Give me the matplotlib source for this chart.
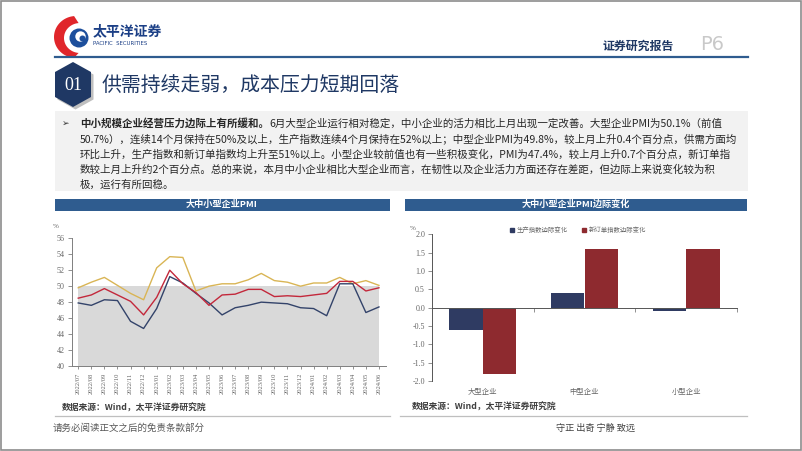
import matplotlib
matplotlib.use('Agg')
import matplotlib.pyplot as plt
from matplotlib.patches import Rectangle, Polygon, Circle
from matplotlib.lines import Line2D
import numpy as np

plt.rcParams['font.family'] = ['Noto Sans CJK SC', 'DejaVu Sans']

# ---------------- data ----------------
months = ['2022/07', '2022/08', '2022/09', '2022/10', '2022/11', '2022/12',
          '2023/01', '2023/02', '2023/03', '2023/04', '2023/05', '2023/06',
          '2023/07', '2023/08', '2023/09', '2023/10', '2023/11', '2023/12',
          '2024/01', '2024/02', '2024/03', '2024/04', '2024/05', '2024/06']
large = [49.8, 50.5, 51.1, 50.1, 49.1, 48.3, 52.3, 53.7, 53.6, 49.4, 50.0, 50.3,
         50.3, 50.8, 51.6, 50.7, 50.5, 50.0, 50.4, 50.4, 51.1, 50.3, 50.7, 50.1]
small = [47.9, 47.6, 48.3, 48.2, 45.6, 44.7, 47.2, 51.2, 50.4, 49.1, 47.9, 46.4,
         47.3, 47.6, 48.0, 47.9, 47.8, 47.3, 47.2, 46.3, 50.3, 50.3, 46.7, 47.4]
medium = [48.5, 48.9, 49.7, 48.9, 48.1, 46.4, 48.6, 52.0, 50.3, 49.2, 47.6, 48.9,
          49.0, 49.6, 49.6, 48.7, 48.8, 48.7, 48.9, 49.1, 50.6, 50.6, 49.4, 49.8]
line_names = ['大型企业', '小型企业', '中型企业']
line_yticks = [40, 42, 44, 46, 48, 50, 52, 54, 56]

bar_cats = ['大型企业', '中型企业', '小型企业']
prod_chg = [-0.6, 0.4, -0.1]
order_chg = [-1.8, 1.6, 1.6]
bar_names = ['生产指数边际变化', '新订单指数边际变化']
bar_yticks = [-2.0, -1.5, -1.0, -0.5, 0.0, 0.5, 1.0, 1.5, 2.0]

para_lines = [
    ("中小规模企业经营压力边际上有所缓和。",
     "6月大型企业运行相对稳定，中小企业的活力相比上月出现一定改善。大型企业PMI为50.1%（前值"),
    ("", "50.7%），连续14个月保持在50%及以上，生产指数连续4个月保持在52%以上；中型企业PMI为49.8%，较上月上升0.4个百分点，供需方面均"),
    ("", "环比上升，生产指数和新订单指数均上升至51%以上。小型企业较前值也有一些积极变化，PMI为47.4%，较上月上升0.7个百分点，新订单指"),
    ("", "数较上月上升约2个百分点。总的来说，本月中小企业相比大型企业而言，在韧性以及企业活力方面还存在差距，但边际上来说变化较为积"),
    ("", "极，运行有所回稳。"),
]

# ---------------- colours ----------------
C_GOLD = '#D9B555'
C_NAVY = '#33436A'
C_RED = '#C3283B'
C_BAR_NAVY = '#2F3B62'
C_BAR_RED = '#8E2A2F'
C_BLUE = '#2F5C8F'
C_DARK = '#1F3864'
C_GRAY = '#666666'

W, H = 802, 451
fig = plt.figure(figsize=(W / 100, H / 100), dpi=100)
bg = fig.add_axes([0, 0, 1, 1])
bg.set_xlim(0, W)
bg.set_ylim(H, 0)
bg.axis('off')


def rect(x0, y0, x1, y1):
    return [x0 / W, 1 - y1 / H, (x1 - x0) / W, (y1 - y0) / H]


# page border
bg.add_patch(Rectangle((0.8, 0.8), W - 1.6, H - 1.6, fill=False, ec='#8C8C8C', lw=1.2))

# ---------------- header ----------------
t = np.linspace(np.radians(95), np.radians(265), 60)
outer = np.c_[76 + 22 * np.cos(t), 37 - 21 * np.sin(t)]
inner = np.c_[80 + 16 * np.cos(t[::-1]), 38 - 15 * np.sin(t[::-1])]
bg.add_patch(Polygon(np.vstack([outer, inner]), closed=True, color='#E0262B', lw=0))
bg.add_patch(Circle((79, 38), 9.5, color='#1D4F9C', lw=0))
bg.add_patch(Circle((80.5, 36.5), 5.2, color='white', lw=0))
bg.add_patch(Circle((82.5, 38.5), 3.0, color='#1D4F9C', lw=0))
bg.text(93, 31, '太平洋证券', fontsize=10, fontweight='bold', color='#1B3F86', va='center', ha='left')
bg.text(93, 43.5, 'PACIFIC  SECURITIES', fontsize=3.9, color='#1B3F86', va='center', ha='left',
        family='DejaVu Sans')

bg.text(603, 46, '证券研究报告', fontsize=8.6, fontweight='bold', color=C_DARK, va='center', ha='left')
bg.text(700, 45, 'P6', fontsize=14, color='#C9C9C9', va='center', ha='left', family='Liberation Sans Narrow')
bg.plot([55, 748], [57, 57], color=C_BLUE, lw=1.6)

hexpts = [(73, 62), (91, 72), (91, 97), (73, 107), (55, 97), (55, 72)]
shadow = [(x + 2.5, y + 2.5) for x, y in hexpts]
bg.add_patch(Polygon(shadow, closed=True, color='#BFBFBF', lw=0))
bg.add_patch(Polygon(hexpts, closed=True, color=C_DARK, lw=0))
bg.text(73, 85, '01', fontsize=13, color='white', family='Liberation Serif', ha='center', va='center')
bg.text(102, 86, '供需持续走弱，成本压力短期回落', fontsize=14.3, color=C_DARK, ha='left', va='center')

# ---------------- text box ----------------
bg.add_patch(Rectangle((55, 111), 693, 80, color='#F2F2F2', lw=0))
bg.text(66, 123, '➢', fontsize=6.5, color='#333333', family='DejaVu Sans', ha='center', va='center')
fig.canvas.draw()
renderer = fig.canvas.get_renderer()
y0, dy = 123, 15.5
PFS = 7.55
for i, (bold, normal) in enumerate(para_lines):
    y = y0 + i * dy
    xx = 80
    if bold:
        tb = bg.text(xx, y, bold, fontsize=PFS, fontweight='bold', color='#262626', ha='left', va='center')
        bb = tb.get_window_extent(renderer)
        xx = bg.transData.inverted().transform((bb.x1, bb.y0))[0]
    bg.text(xx, y, normal, fontsize=PFS, color='#262626', ha='left', va='center')

# ---------------- panel titles ----------------
bg.add_patch(Rectangle((54.5, 198.5), 335, 12, color=C_BLUE, lw=0))
bg.text(222, 204.5, '大中小型企业PMI', fontsize=6.6, fontweight='bold', color='white', ha='center', va='center')
bg.add_patch(Rectangle((405, 198.5), 342, 12, color=C_BLUE, lw=0))
bg.text(576, 204.5, '大中小型企业PMI边际变化', fontsize=6.6, fontweight='bold', color='white',
        ha='center', va='center')

# ---------------- line chart ----------------
ax1 = fig.add_axes(rect(71.7, 238.3, 385.5, 366))
ax1.set_facecolor('none')
x = np.arange(len(months))
ax1.fill_between(x, 40, 50, color='#D9D9D9', lw=0, zorder=1)
ax1.plot(x, large, color=C_GOLD, lw=1.0, zorder=3)
ax1.plot(x, small, color=C_NAVY, lw=1.0, zorder=3)
ax1.plot(x, medium, color=C_RED, lw=1.0, zorder=4)
ax1.set_xlim(-0.5, len(months) - 0.5)
ax1.set_ylim(40, 56)
ax1.set_yticks(line_yticks)
ax1.set_yticklabels([str(v) for v in line_yticks], family='Liberation Serif', fontsize=5.8, color=C_GRAY)
ax1.set_xticks(x)
ax1.set_xticklabels(months, rotation=90, fontsize=4.7, family='Liberation Serif', color=C_GRAY)
ax1.tick_params(axis='y', length=3, width=0.6, color='#7F7F7F', pad=2)
ax1.tick_params(axis='x', length=2.5, width=0.6, color='#7F7F7F', pad=2)
for s in ['top', 'right']:
    ax1.spines[s].set_visible(False)
for s in ['left', 'bottom']:
    ax1.spines[s].set_color('#7F7F7F')
    ax1.spines[s].set_linewidth(0.7)
bg.text(56, 227, '%', fontsize=5, color=C_GRAY, ha='center', va='center', family='Liberation Serif')

h1 = [Line2D([], [], color=c, lw=1.0) for c in (C_GOLD, C_NAVY, C_RED)]
bg.legend(h1, line_names, loc='center', bbox_to_anchor=(224, 230), bbox_transform=bg.transData,
          ncol=3, frameon=False, fontsize=5, labelcolor=C_GRAY, handlelength=2.2,
          handletextpad=0.5, columnspacing=1.4, borderpad=0, borderaxespad=0)

# ---------------- bar chart ----------------
ax2 = fig.add_axes(rect(432, 234.3, 737, 381))
ax2.set_facecolor('none')
bx = np.arange(len(bar_cats))
bw = 0.33
ax2.bar(bx - bw / 2, prod_chg, bw, color=C_BAR_NAVY, zorder=2)
ax2.bar(bx + bw / 2, order_chg, bw, color=C_BAR_RED, zorder=2)
ax2.set_xlim(-0.5, len(bar_cats) - 0.5)
ax2.set_ylim(-2, 2)
ax2.set_yticks(bar_yticks)
ax2.set_yticklabels([f'{v:.1f}' for v in bar_yticks], family='Liberation Serif', fontsize=5.8, color=C_GRAY)
ax2.tick_params(axis='y', length=3, width=0.6, color='#7F7F7F', pad=2)
ax2.spines['bottom'].set_position(('data', 0))
ax2.set_xticks(bx + 0.5)
ax2.set_xticklabels([])
ax2.tick_params(axis='x', length=3, width=0.6, color='#7F7F7F')
for s in ['top', 'right']:
    ax2.spines[s].set_visible(False)
for s in ['left', 'bottom']:
    ax2.spines[s].set_color('#555555')
    ax2.spines[s].set_linewidth(0.7)
ax2.spines['bottom'].set_zorder(3)
for i, c in enumerate(bar_cats):
    ax2.annotate(c, xy=(i, 0), xycoords=('data', 'axes fraction'), xytext=(0, -7.7),
                 textcoords='offset points', ha='center', va='center', fontsize=5.3, color=C_GRAY)
bg.text(413, 228, '%', fontsize=5, color=C_GRAY, ha='center', va='center', family='Liberation Serif')

h2 = [Line2D([], [], marker='s', ls='none', color=c, markersize=3.2) for c in (C_BAR_NAVY, C_BAR_RED)]
bg.legend(h2, bar_names, loc='center', bbox_to_anchor=(578, 230), bbox_transform=bg.transData,
          ncol=2, frameon=False, fontsize=4.6, labelcolor=C_GRAY, handlelength=0.8,
          handletextpad=0.3, columnspacing=2.2, borderpad=0, borderaxespad=0)

# ---------------- sources & footer ----------------
bg.text(62, 408, '数据来源：Wind，太平洋证券研究院', fontsize=6.3, fontweight='bold', color='#404040',
        ha='left', va='center')
bg.text(412, 407, '数据来源：Wind，太平洋证券研究院', fontsize=6.3, fontweight='bold', color='#404040',
        ha='left', va='center')
bg.plot([55, 390], [415.5, 415.5], color='#BFBFBF', lw=0.9)
bg.plot([400, 747], [415.5, 415.5], color='#BFBFBF', lw=0.9)
bg.text(53, 428, '请务必阅读正文之后的免责条款部分', fontsize=6.8, color='#595959', ha='left', va='center')
bg.text(595, 428, '守正 出奇 宁静 致远', fontsize=6.6, color='#404040', ha='center', va='center')

fig.savefig('out.png', dpi=100)
